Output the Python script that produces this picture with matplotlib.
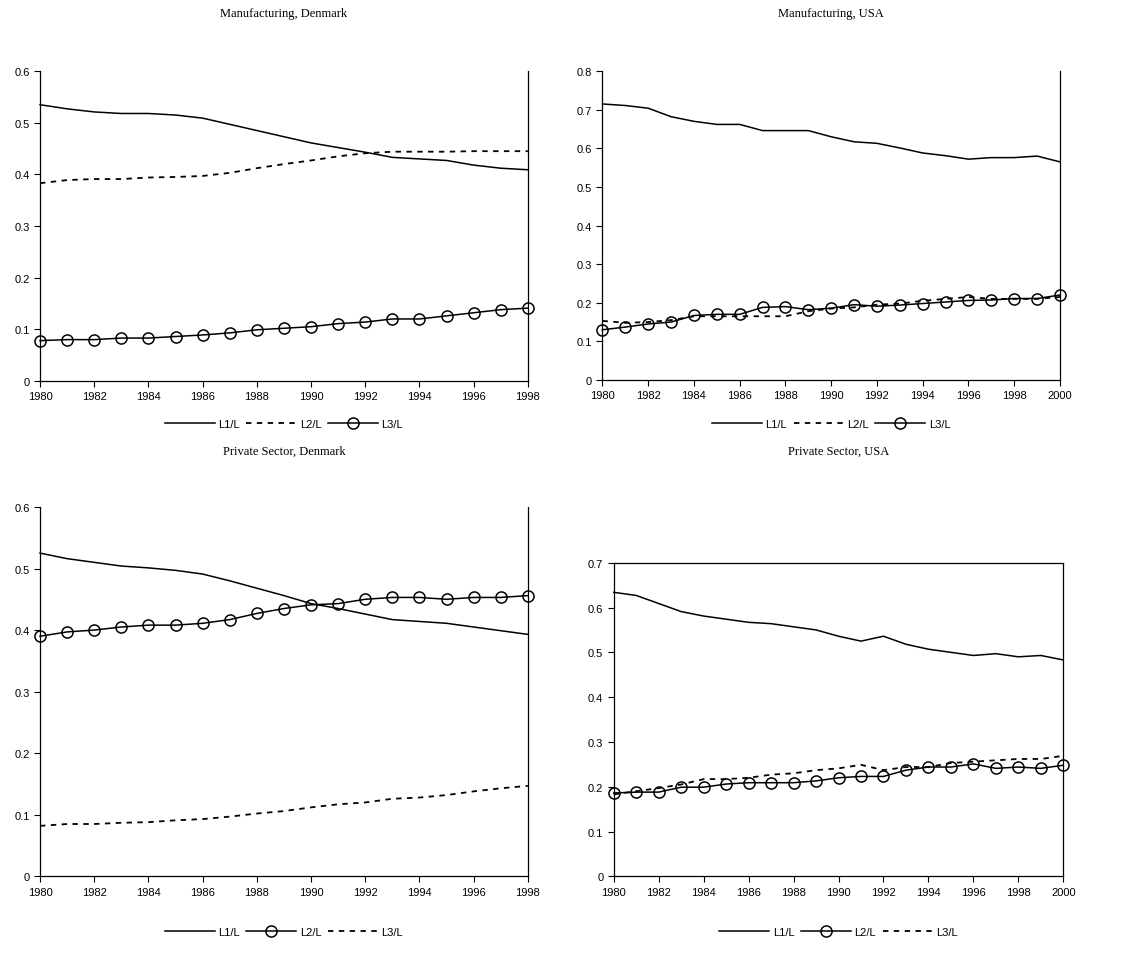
import matplotlib
matplotlib.use("Agg")
import matplotlib.pyplot as plt
import numpy as np

years_dk = list(range(1980, 1999))
years_us = list(range(1980, 2001))

mdk_l1 = [.535,.527,.521,.518,.518,.515,.509,.497,.485,.473,.461,.452,.443,.433,.430,.427,.418,.412,.409]
mdk_l2 = [.383,.389,.391,.391,.394,.395,.397,.403,.412,.420,.427,.435,.441,.444,.444,.444,.445,.445,.445]
mdk_l3 = [.078,.080,.080,.083,.083,.086,.089,.093,.099,.102,.105,.111,.114,.120,.120,.126,.132,.138,.141]

mus_l1 = [.715,.711,.704,.682,.670,.662,.662,.646,.646,.646,.630,.617,.613,.601,.588,.581,.572,.576,.576,.580,.565]
mus_l2 = [.153,.148,.150,.155,.165,.165,.165,.165,.165,.178,.185,.188,.195,.198,.205,.210,.215,.210,.210,.210,.215]
mus_l3 = [.130,.137,.145,.150,.167,.170,.170,.188,.190,.182,.186,.195,.191,.194,.198,.202,.206,.207,.211,.211,.220]

pdk_l1 = [.525,.516,.510,.504,.501,.497,.491,.480,.468,.456,.443,.435,.426,.417,.414,.411,.405,.399,.393]
pdk_l2 = [.390,.397,.400,.405,.408,.408,.411,.417,.427,.435,.441,.443,.450,.453,.453,.450,.453,.453,.456]
pdk_l3 = [.082,.085,.085,.087,.088,.091,.093,.097,.102,.106,.112,.117,.120,.126,.128,.132,.138,.143,.147]

pus_l1 = [.634,.627,.609,.591,.581,.574,.567,.564,.557,.550,.536,.525,.536,.518,.507,.500,.493,.497,.490,.493,.483]
pus_l2 = [.186,.188,.188,.199,.199,.206,.209,.209,.209,.213,.220,.223,.223,.237,.244,.244,.251,.241,.244,.241,.248]
pus_l3 = [.183,.190,.197,.205,.217,.217,.220,.227,.230,.237,.241,.249,.237,.244,.244,.253,.256,.259,.262,.262,.269]

fig = plt.figure(figsize=(11.24, 9.62), dpi=100)
fig.patch.set_facecolor("white")

solid = dict(color="black", lw=1.1, ls="-")
dashed = dict(color="black", lw=1.3, ls=(0, (3, 3)))
circ = dict(color="black", lw=1.1, ls="-", marker="o", ms=8, mfc="none", mec="black", mew=1.1)

panels = [
    ([0.0356, 0.603, 0.434, 0.322], "Manufacturing, Denmark", years_dk,
     [(mdk_l1, solid, "L1/L"), (mdk_l2, dashed, "L2/L"), (mdk_l3, circ, "L3/L")], 0.6, 0.1, 14, 425, False),
    ([0.536, 0.604, 0.407, 0.321], "Manufacturing, USA", years_us,
     [(mus_l1, solid, "L1/L"), (mus_l2, dashed, "L2/L"), (mus_l3, circ, "L3/L")], 0.8, 0.1, 14, 425, False),
    ([0.0356, 0.088, 0.434, 0.384], "Private Sector, Denmark", years_dk,
     [(pdk_l1, solid, "L1/L"), (pdk_l2, circ, "L2/L"), (pdk_l3, dashed, "L3/L")], 0.6, 0.1, 452, 933, False),
    ([0.546, 0.088, 0.400, 0.326], "Private Sector, USA", years_us,
     [(pus_l1, solid, "L1/L"), (pus_l2, circ, "L2/L"), (pus_l3, dashed, "L3/L")], 0.7, 0.1, 452, 933, True),
]

for rect, title, yrs, series, ymax, ystep, ty, ly, top in panels:
    ax = fig.add_axes(rect)
    handles = []
    for vals, style, lab in series:
        h, = ax.plot(yrs, vals, label=lab, clip_on=False, **style)
        handles.append(h)
    ax.set_xlim(yrs[0], yrs[-1])
    ax.set_ylim(0, ymax)
    ax.set_xticks(yrs[::2])
    ax.set_yticks(np.round(np.arange(0, ymax + 1e-9, ystep), 1))
    ax.set_yticklabels([("0" if v == 0 else f"{v:.1f}") for v in np.arange(0, ymax + 1e-9, ystep)])
    ax.tick_params(labelsize=8, direction="out", length=4, width=0.8)
    for lbl in ax.get_xticklabels() + ax.get_yticklabels():
        lbl.set_fontfamily("Liberation Sans")
    ax.spines["top"].set_visible(top)
    for s in ax.spines.values():
        s.set_linewidth(0.9)
    cx = rect[0] + rect[2] / 2
    fig.text(cx, 1 - ty / 962, title, ha="center", va="center",
             fontsize=9, family="Liberation Serif")
    fig.legend(handles=handles, loc="center", bbox_to_anchor=(cx, 1 - ly / 962),
               ncol=3, frameon=False, handlelength=4.5, columnspacing=0.6,
               handletextpad=0.3, prop={"family": "Liberation Sans", "size": 8})

fig.savefig("out.png", dpi=100)
